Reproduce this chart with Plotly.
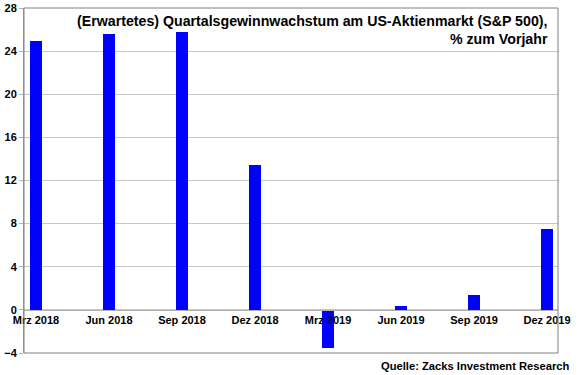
import plotly.graph_objects as go

categories = ["Mrz 2018", "Jun 2018", "Sep 2018", "Dez 2018",
              "Mrz 2019", "Jun 2019", "Sep 2019", "Dez 2019"]
values = [24.9, 25.6, 25.8, 13.4, -3.5, 0.4, 1.4, 7.5]
y_ticks = [-4, 0, 4, 8, 12, 16, 20, 24, 28]

title_text = "(Erwartetes) Quartalsgewinnwachstum am US-Aktienmarkt (S&P 500),<br>% zum Vorjahr"
source_text = "Quelle: Zacks Investment Research"

FONT = "Liberation Sans, Arial, sans-serif"
xpos = list(range(len(categories)))
xr = [-0.164, 7.15]
ymin, ymax = -4, 28
zero_pos = (0 - ymin) / (ymax - ymin)

fig = go.Figure()
fig.add_trace(go.Bar(x=xpos, y=values, width=0.16, marker=dict(color="#0000FF", line=dict(width=0)),
                     showlegend=False, hoverinfo="skip"))

fig.update_layout(
    width=580, height=375,
    margin=dict(l=24, r=22, t=8, b=22, autoexpand=False),
    paper_bgcolor="white", plot_bgcolor="white",
    font=dict(family=FONT, color="black"),
    xaxis=dict(type="linear", range=xr, anchor="free", position=zero_pos, automargin=False,
               tickmode="array", tickvals=xpos, ticktext=categories,
               ticks="", showgrid=False, zeroline=False,
               showline=True, linecolor="#b0b0b0", linewidth=1,
               tickfont=dict(family=FONT, size=11, color="black", weight="bold")),
    xaxis2=dict(type="linear", range=xr, overlaying="x", anchor="free", position=zero_pos,
                automargin=False,
                tickmode="array", tickvals=[k - 0.164 for k in range(len(categories) + 1)],
                ticks="outside", ticklen=3, tickcolor="#b0b0b0", showticklabels=False,
                showgrid=False, zeroline=False, showline=False),
    yaxis=dict(range=[ymin, ymax], tickmode="array", tickvals=y_ticks, automargin=False,
               showgrid=True, gridcolor="#c8c8c8", gridwidth=1,
               zeroline=False, showline=True, linecolor="#a0a0a0",
               ticks="outside", ticklen=4, tickcolor="#b0b0b0",
               tickfont=dict(family=FONT, size=11, color="black", weight="bold")),
    bargap=0,
    shapes=[dict(type="rect", xref="paper", yref="paper", x0=0, x1=1, y0=0, y1=1,
                 line=dict(color="#808080", width=1), fillcolor="rgba(0,0,0,0)", layer="above")],
)

fig.add_annotation(text=title_text, xref="paper", yref="paper", x=0.985, y=0.99,
                   xanchor="right", yanchor="top", align="right", showarrow=False,
                   font=dict(family=FONT, size=14.2, color="black", weight="bold"))
fig.add_annotation(text=source_text, xref="paper", yref="paper", x=1.027, y=-0.015,
                   xanchor="right", yanchor="top", align="right", showarrow=False,
                   font=dict(family=FONT, size=11.2, color="black", weight="bold"))

fig.write_html("out.html", config={"displayModeBar": False},
               post_script="document.body.style.margin='0px';")
